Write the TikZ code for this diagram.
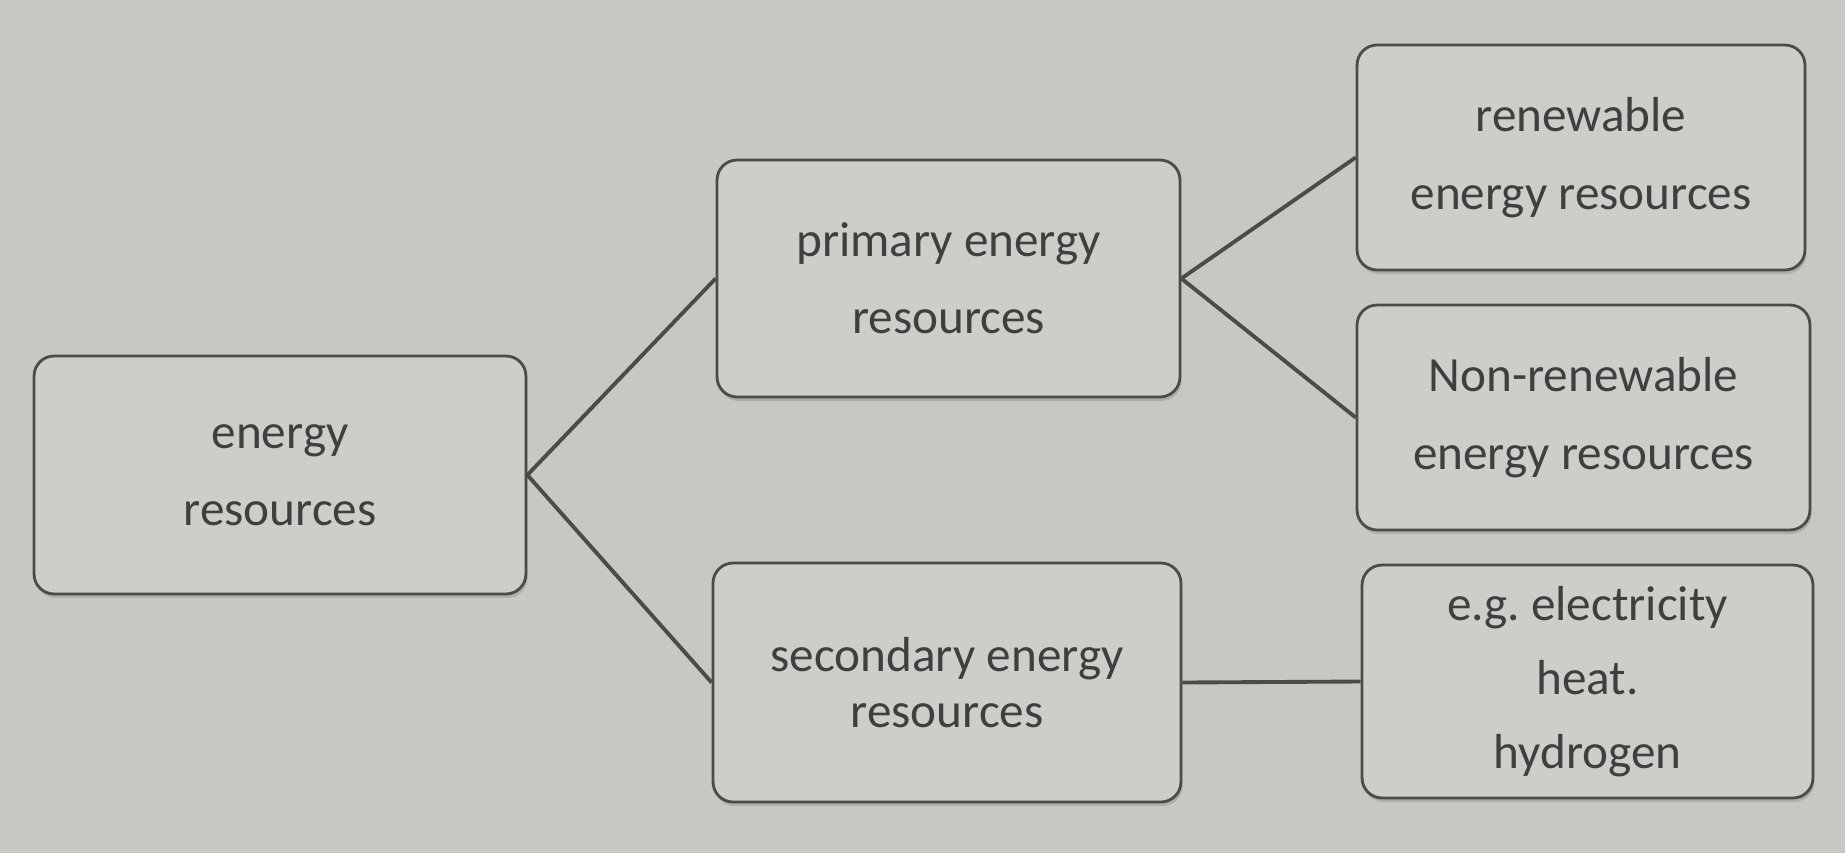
\documentclass[tikz,border=0pt]{standalone}
\usepackage{fontspec}
\setmainfont{Carlito}
\usetikzlibrary{shadows}
\definecolor{paper}{HTML}{C6C8C4}
\definecolor{boxfill}{HTML}{CCCECA}
\definecolor{ink}{HTML}{4A4C4A}
\definecolor{textink}{HTML}{3E403E}
\begin{document}
\begin{tikzpicture}[x=0.02cm,y=-0.02cm,
  box/.style={draw=ink, line width=1.6pt, fill=boxfill, rounded corners=0.4cm,
    align=center, text=textink, inner sep=0pt,
    drop shadow={opacity=0.35, shadow xshift=0.03cm, shadow yshift=-0.08cm},
    font=\fontsize{28}{44}\selectfont},
  link/.style={draw=ink, line width=2.2pt}]
\fill[paper] (0,0) rectangle (1845,853);
\useasboundingbox (0,0) rectangle (1845,853);
\node[box, minimum width=9.84cm, minimum height=4.76cm] (A) at (280,475) {energy\\resources};
\node[box, minimum width=9.26cm, minimum height=4.74cm] (B) at (948.5,278.5) {primary energy\\resources};
\node[box, minimum width=9.36cm, minimum height=4.78cm, font=\fontsize{28}{32}\selectfont] (C) at (947,682.5) {secondary energy\\resources};
\node[box, minimum width=8.96cm, minimum height=4.5cm] (D) at (1581,157.5) {renewable\\energy resources};
\node[box, minimum width=9.06cm, minimum height=4.5cm] (E) at (1583.5,417.5) {Non-renewable\\energy resources};
\node[box, minimum width=9.02cm, minimum height=4.66cm, font=\fontsize{28}{42}\selectfont] (F) at (1587.5,681.5) {e.g.\ electricity\\heat.\\hydrogen};
\draw[link] (A.east) -- (B.west);
\draw[link] (A.east) -- (C.west);
\draw[link] (B.east) -- (D.west);
\draw[link] (B.east) -- (E.west);
\draw[link] (C.east) -- (F.west);
\end{tikzpicture}
\end{document}
